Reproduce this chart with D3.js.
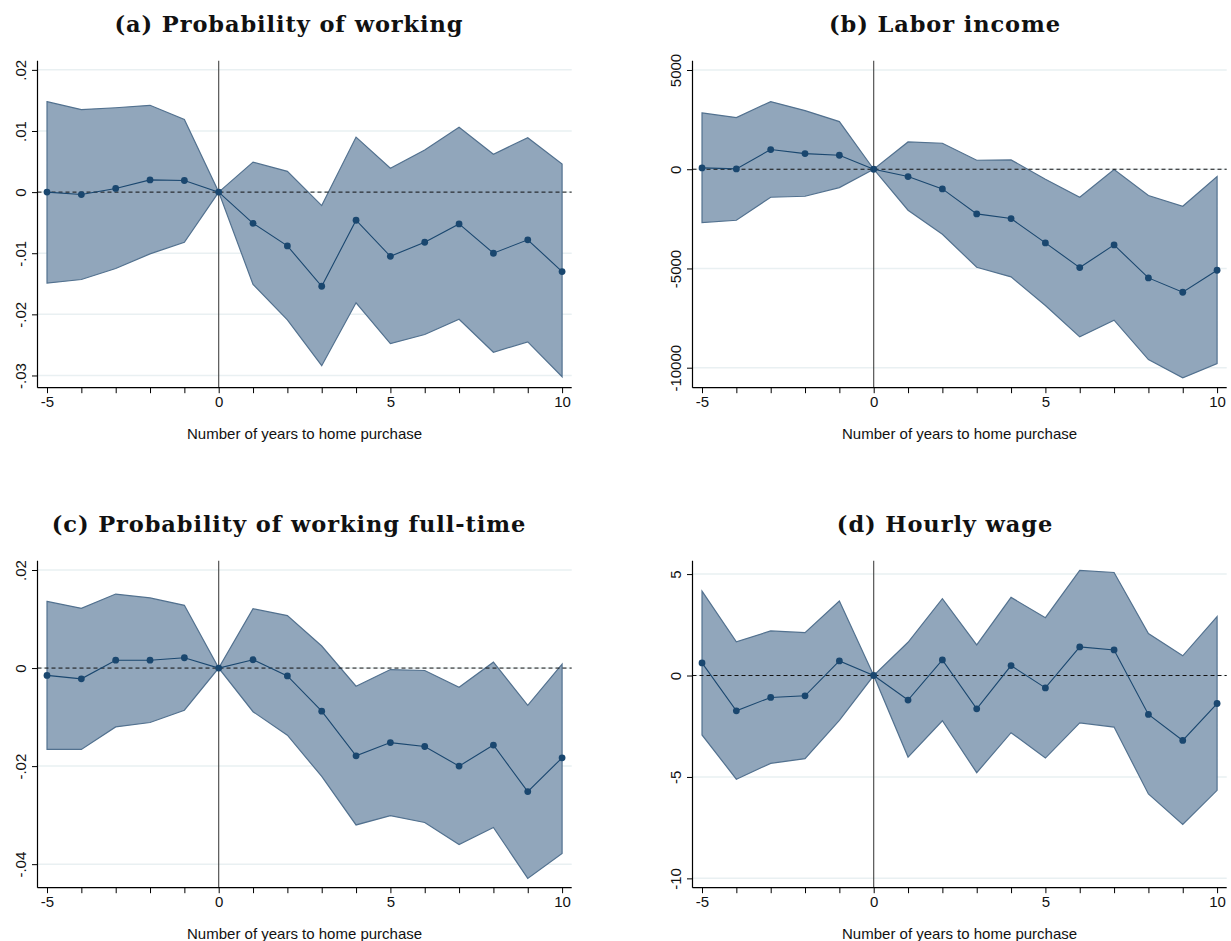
<!DOCTYPE html>
<html>
<head>
<meta charset="utf-8">
<script src="https://cdn.jsdelivr.net/npm/d3@7"></script>
<style>
  body { margin: 0; background: #fff; }
  svg { display: block; }
</style>
</head>
<body>
<div id="chart"></div>
<script>
var years = [-5, -4, -3, -2, -1, 0, 1, 2, 3, 4, 5, 6, 7, 8, 9, 10];

// (a) probability of working
var workEst = [0, -0.0004, 0.0006, 0.002, 0.0019, 0, -0.0051, -0.0088, -0.0154, -0.0046, -0.0105, -0.0082, -0.0052, -0.0100, -0.0078, -0.0130];
var workHi  = [0.0148, 0.0135, 0.0138, 0.0142, 0.0119, 0, 0.0049, 0.0034, -0.0022, 0.0090, 0.0039, 0.0069, 0.0106, 0.0062, 0.0089, 0.0046];
var workLo  = [-0.0149, -0.0143, -0.0125, -0.0101, -0.0082, 0, -0.0151, -0.0209, -0.0284, -0.0181, -0.0248, -0.0233, -0.0208, -0.0262, -0.0245, -0.0302];

// (b) labor income
var incomeEst = [67, 17, 991, 789, 705, 0, -370, -991, -2251, -2486, -3712, -4955, -3813, -5475, -6198, -5089];
var incomeHi  = [2838, 2603, 3409, 2956, 2402, 0, 1377, 1310, 453, 470, -500, -1411, -20, -1327, -1864, -370];
var incomeLo  = [-2687, -2570, -1411, -1360, -924, 0, -2066, -3275, -4938, -5425, -6869, -8448, -7608, -9590, -10514, -9792];

// (c) probability of working full-time
var fullEst = [-0.0015, -0.0022, 0.0016, 0.0016, 0.0021, 0, 0.0017, -0.0016, -0.0088, -0.0179, -0.0152, -0.0160, -0.0200, -0.0157, -0.0252, -0.0183];
var fullHi  = [0.0136, 0.0122, 0.0151, 0.0143, 0.0128, 0, 0.0121, 0.0107, 0.0045, -0.0037, -0.0003, -0.0005, -0.0039, 0.0012, -0.0076, 0.0008];
var fullLo  = [-0.0166, -0.0166, -0.0120, -0.0111, -0.0086, 0, -0.0089, -0.0137, -0.0221, -0.0320, -0.0301, -0.0315, -0.0360, -0.0325, -0.0429, -0.0378];

// (d) hourly wage
var wageEst = [0.62, -1.74, -1.08, -1.00, 0.72, 0, -1.21, 0.77, -1.64, 0.49, -0.61, 1.41, 1.26, -1.92, -3.20, -1.38];
var wageHi  = [4.16, 1.66, 2.20, 2.11, 3.67, 0, 1.64, 3.79, 1.51, 3.85, 2.85, 5.18, 5.08, 2.07, 0.97, 2.90];
var wageLo  = [-2.93, -5.11, -4.33, -4.10, -2.21, 0, -4.02, -2.23, -4.79, -2.82, -4.07, -2.33, -2.54, -5.84, -7.34, -5.66];

var xTicks = [-5, 0, 5, 10];
var workTicks = [-0.03, -0.02, -0.01, 0, 0.01, 0.02];
var workTickLabels = ["-.03", "-.02", "-.01", "0", ".01", ".02"];
var incomeTicks = [-10000, -5000, 0, 5000];
var incomeTickLabels = ["-10000", "-5000", "0", "5000"];
var fullTicks = [-0.04, -0.02, 0, 0.02];
var fullTickLabels = ["-.04", "-.02", "0", ".02"];
var wageTicks = [-10, -5, 0, 5];
var wageTickLabels = ["-10", "-5", "0", "5"];

var titles = ["(a) Probability of working", "(b) Labor income", "(c) Probability of working full-time", "(d) Hourly wage"];
var xTitle = "Number of years to home purchase";

var W = 1231, H = 941;
var fillCol = "#91a6bb", edgeCol = "#52718f", navy = "#1a476f", gridCol = "#e9f0f2";

var svg = d3.select("#chart").append("svg")
    .attr("width", W)
    .attr("height", H)
    .style("font-family", "'Liberation Sans', Arial, sans-serif");

var panels = [
  {title: titles[0], est: workEst, lo: workLo, hi: workHi, ticks: workTicks, labels: workTickLabels,
   ydom: [-0.032, 0.0215], x0: 37.5, x1: 571.7, y0: 60.7, y1: 387.7, tx: 289},
  {title: titles[1], est: incomeEst, lo: incomeLo, hi: incomeHi, ticks: incomeTicks, labels: incomeTickLabels,
   ydom: [-11008, 5469], x0: 692.5, x1: 1226.7, y0: 60.7, y1: 387.7, tx: 945},
  {title: titles[2], est: fullEst, lo: fullLo, hi: fullHi, ticks: fullTicks, labels: fullTickLabels,
   ydom: [-0.0448, 0.0219], x0: 37.5, x1: 571.7, y0: 560.7, y1: 887.7, tx: 289},
  {title: titles[3], est: wageEst, lo: wageLo, hi: wageHi, ticks: wageTicks, labels: wageTickLabels,
   ydom: [-10.46, 5.66], x0: 692.5, x1: 1226.7, y0: 560.7, y1: 887.7, tx: 945}
];

panels.forEach(function(p){ drawPanel(p); });

function drawPanel(p){
  var x = d3.scaleLinear().domain([-5.277, 10.28]).range([p.x0, p.x1]);
  var y = d3.scaleLinear().domain(p.ydom).range([p.y1, p.y0]);
  var g = svg.append("g");

  var rows = years.map(function(yr, i){ return {yr: yr, est: p.est[i], lo: p.lo[i], hi: p.hi[i]}; });

  // title
  g.append("text")
    .attr("x", p.tx)
    .attr("y", p.y0 - 29)
    .attr("text-anchor", "middle")
    .style("font-family", "'DejaVu Serif', serif")
    .style("font-weight", "bold")
    .style("font-size", "22.5px")
    .style("letter-spacing", "0.9px")
    .style("fill", "#111")
    .text(p.title);

  // grid
  g.append("g").selectAll("line")
    .data(p.ticks)
    .enter().append("line")
    .attr("x1", p.x0).attr("x2", p.x1)
    .attr("y1", function(d){ return y(d); })
    .attr("y2", function(d){ return y(d); })
    .attr("stroke", gridCol)
    .attr("stroke-width", 1.5);

  // confidence band
  var area = d3.area()
      .x(function(d){ return x(d.yr); })
      .y0(function(d){ return y(d.lo); })
      .y1(function(d){ return y(d.hi); });
  g.append("path")
    .datum(rows)
    .attr("d", function(d){ return area(d) + "Z"; })
    .attr("fill", fillCol)
    .attr("stroke", edgeCol)
    .attr("stroke-width", 1.2)
    .attr("stroke-linejoin", "miter");

  // vertical line at 0
  g.append("line")
    .attr("x1", x(0)).attr("x2", x(0))
    .attr("y1", p.y0).attr("y2", p.y1)
    .attr("stroke", "#444")
    .attr("stroke-width", 1.1);

  // dashed zero line
  g.append("line")
    .attr("x1", p.x0).attr("x2", p.x1)
    .attr("y1", y(0)).attr("y2", y(0))
    .attr("stroke", "#111")
    .attr("stroke-width", 1)
    .attr("stroke-dasharray", "4,3");

  // estimate line + points
  var line = d3.line()
      .x(function(d){ return x(d.yr); })
      .y(function(d){ return y(d.est); });
  g.append("path")
    .datum(rows)
    .attr("d", line)
    .attr("fill", "none")
    .attr("stroke", navy)
    .attr("stroke-width", 1.1);
  g.append("g").selectAll("circle")
    .data(rows)
    .enter().append("circle")
    .attr("cx", function(d){ return x(d.yr); })
    .attr("cy", function(d){ return y(d.est); })
    .attr("r", 3.4)
    .attr("fill", navy);

  // x axis
  var xa = g.append("g")
    .attr("transform", "translate(0," + p.y1 + ")")
    .call(d3.axisBottom(x).tickValues(years).tickSize(5.5)
      .tickFormat(function(d){ return xTicks.indexOf(d) >= 0 ? d : ""; }));
  xa.select(".domain").attr("d", "M" + p.x0 + ",0H" + p.x1).attr("stroke", "#000").attr("stroke-width", 1.2);
  xa.selectAll(".tick line").attr("stroke", "#000");
  xa.selectAll(".tick text")
    .attr("y", 9)
    .style("font-size", "15px")
    .style("font-family", "'Liberation Sans', Arial, sans-serif")
    .attr("fill", "#111");

  // y axis
  var ya = g.append("g")
    .attr("transform", "translate(" + p.x0 + ",0)")
    .call(d3.axisLeft(y).tickValues(p.ticks).tickSize(5.5)
      .tickFormat(function(d, i){ return p.labels[i]; }));
  ya.select(".domain").attr("d", "M0," + p.y0 + "V" + p.y1).attr("stroke", "#000").attr("stroke-width", 1.2);
  ya.selectAll(".tick line").attr("stroke", "#000");
  ya.selectAll(".tick text")
    .attr("x", null).attr("dy", null)
    .attr("transform", "translate(-11.5,0) rotate(-90)")
    .attr("text-anchor", "middle")
    .style("font-size", "15px")
    .style("font-family", "'Liberation Sans', Arial, sans-serif")
    .attr("fill", "#111");

  // x title
  g.append("text")
    .attr("x", (p.x0 + p.x1) / 2)
    .attr("y", p.y1 + 51)
    .attr("text-anchor", "middle")
    .style("font-size", "15px")
    .attr("fill", "#111")
    .text(xTitle);
}
</script>
</body>
</html>
